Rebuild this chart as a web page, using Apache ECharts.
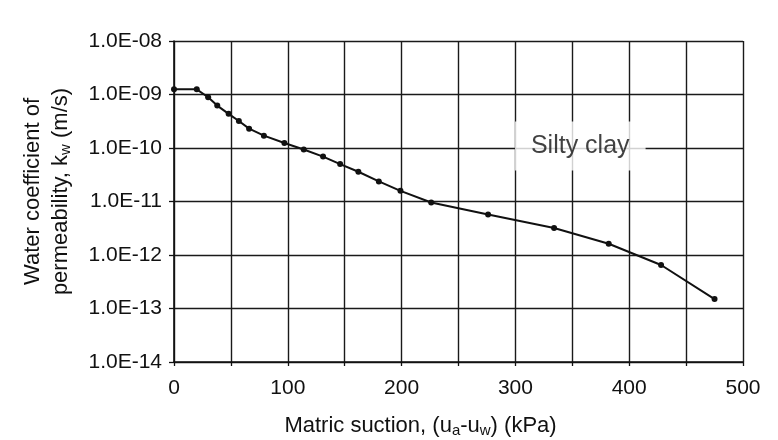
<!DOCTYPE html>
<html>
<head>
<meta charset="utf-8">
<script src="https://cdn.jsdelivr.net/npm/echarts@6/dist/echarts.min.js"></script>
<style>
  html, body { margin: 0; padding: 0; background: #fff; }
  #main { width: 778px; height: 440px; }
</style>
</head>
<body>
<div id="main"></div>
<script>
// matric suction (kPa) and permeability (m/s)
var suction = [0, 20, 30, 38, 48, 57, 66, 79, 97, 114, 131, 146, 162, 180, 199, 226, 276, 334, 382, 428, 475];
var permeability = [1.25e-9, 1.25e-9, 8.9e-10, 6.2e-10, 4.35e-10, 3.2e-10, 2.3e-10, 1.7e-10, 1.24e-10, 9.4e-11,
  6.9e-11, 5.0e-11, 3.6e-11, 2.37e-11, 1.58e-11, 9.6e-12, 5.7e-12, 3.2e-12, 1.62e-12, 6.5e-13, 1.5e-13];
var curveLabel = { text: 'Silty clay', x: 357, y: 1e-10 };

var font = 'Liberation Sans, Arial, sans-serif';

let chartDom = document.getElementById('main');
let myChart = echarts.init(chartDom);
let option;

option = {
  backgroundColor: '#fff',
  animation: false,
  grid: { left: 174, right: 35, top: 41, bottom: 78, outerBoundsMode: 'none' },
  xAxis: {
    type: 'value',
    min: 0,
    max: 500,
    interval: 50,
    name: '{t|Matric suction, (u}{s|a}{t|-u}{s|w}{t|) (kPa)}',
    nameLocation: 'middle',
    nameGap: 52,
    nameTextStyle: {
      padding: [0, 76, 0, 0],
      rich: {
        t: { fontFamily: font, fontSize: 22, color: '#111' },
        s: { fontFamily: font, fontSize: 15, color: '#111', padding: [9, 0, 0, 0] }
      }
    },
    axisLine: { lineStyle: { color: '#111', width: 1.6 } },
    axisTick: { show: true, length: 4, lineStyle: { color: '#111', width: 1.3 } },
    axisLabel: {
      fontFamily: font, fontSize: 21, color: '#111', margin: 16,
      formatter: function (v) { return v % 100 === 0 ? String(v) : ''; }
    },
    splitLine: { show: true, lineStyle: { color: '#1a1a1a', width: 1.4 } }
  },
  yAxis: {
    type: 'log',
    logBase: 10,
    min: 1e-14,
    max: 1e-8,
    name: '{t|Water coefficient of}\n{t|permeability, k}{s|w}{t| (m/s)}',
    nameLocation: 'middle',
    nameRotate: 90,
    nameGap: 99,
    nameTextStyle: {
      align: 'center',
      padding: [0, 0, 0, 20],
      rich: {
        t: { fontFamily: font, fontSize: 22, color: '#111', lineHeight: 28 },
        s: { fontFamily: font, fontSize: 15, color: '#111', lineHeight: 28, padding: [9, 0, 0, 0] }
      }
    },
    axisLine: { show: true, lineStyle: { color: '#111', width: 1.6 } },
    axisTick: { show: true, length: 5, lineStyle: { color: '#111', width: 1.3 } },
    axisLabel: {
      fontFamily: font, fontSize: 21, color: '#111', margin: 12,
      formatter: function (v) {
        var e = Math.round(Math.log10(v));
        var a = Math.abs(e);
        return '1.0E-' + (a < 10 ? '0' + a : a);
      }
    },
    splitLine: { show: true, lineStyle: { color: '#1a1a1a', width: 1.4 } }
  },
  series: [
    {
      type: 'line',
      data: suction.map(function (x, i) { return [x, permeability[i]]; }),
      symbol: 'circle',
      symbolSize: 6,
      lineStyle: { color: '#111', width: 2 },
      itemStyle: { color: '#111' },
      z: 3
    },
    {
      type: 'scatter',
      data: [[curveLabel.x, curveLabel.y]],
      symbolSize: 0,
      silent: true,
      z: 4,
      label: {
        show: true,
        position: 'inside',
        offset: [0, -2],
        formatter: curveLabel.text,
        fontFamily: font,
        fontSize: 25,
        color: '#111',
        backgroundColor: '#fff',
        padding: [17, 16, 7, 16]
      }
    }
  ]
};

option && myChart.setOption(option);
</script>
</body>
</html>
